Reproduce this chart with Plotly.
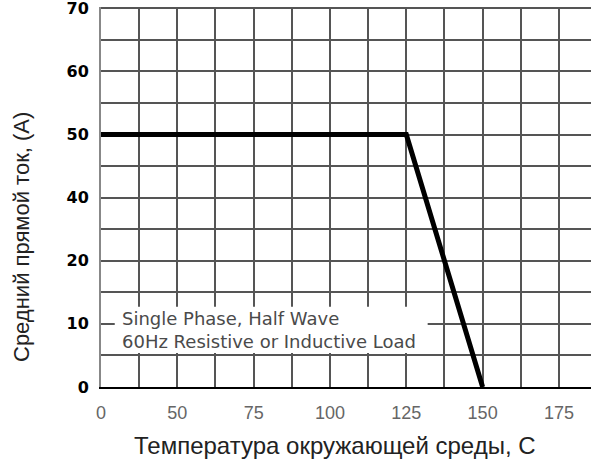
import numpy as np
import plotly.graph_objects as go

# Tick labels as printed on the derating chart (evenly spaced on both axes)
x_ticks = [0, 50, 75, 100, 125, 150, 175]
y_ticks = [0, 10, 20, 40, 50, 60, 70]

# Derating curve: ambient temperature (C) vs average forward current (A)
temperature = [0, 125, 150]
current = [50, 50, 0]

x_idx = np.arange(len(x_ticks))
y_idx = np.arange(len(y_ticks))

# Map values onto the evenly spaced tick grid
x_pos = np.interp(temperature, x_ticks, x_idx)
y_pos = np.interp(current, y_ticks, y_idx)

grid_color = "#555555"

fig = go.Figure()
fig.add_trace(go.Scatter(
    x=x_pos, y=y_pos, mode="lines",
    line=dict(color="black", width=5),
    hoverinfo="skip", showlegend=False,
))

fig.update_xaxes(
    range=[0, 6.42],
    tickmode="array", tickvals=x_idx, ticktext=[str(v) for v in x_ticks],
    tickfont=dict(family="Liberation Sans, Arial", size=18, color="#666666"),
    ticklabelstandoff=8,
    showgrid=True, gridcolor=grid_color, gridwidth=1.6,
    minor=dict(tickvals=x_idx + 0.5, showgrid=True, gridcolor=grid_color, gridwidth=1.6),
    showline=True, linecolor="black", linewidth=2,
    zeroline=False, ticks="",
)
fig.update_yaxes(
    range=[0, 6.02],
    tickmode="array", tickvals=y_idx, ticktext=[str(v) for v in y_ticks],
    tickfont=dict(family="DejaVu Sans", size=16, color="black", weight="bold"),
    ticklabelstandoff=7, ticklabeloverflow="allow",
    showgrid=True, gridcolor=grid_color, gridwidth=1.6,
    minor=dict(tickvals=y_idx[:-1] + 0.5, showgrid=True, gridcolor=grid_color, gridwidth=1.6),
    showline=True, linecolor="#888888", linewidth=2,
    zeroline=False, ticks="",
)

# White label box over the grid
fig.add_shape(
    type="rect", xref="x", yref="y",
    x0=0.18, x1=4.28, y0=0.54, y1=1.27,
    fillcolor="white", line=dict(width=0), layer="above",
)
fig.add_annotation(
    x=0.25, y=0.9, xref="x", yref="y",
    xanchor="left", yanchor="middle", align="left",
    text="Single Phase, Half Wave<br>60Hz Resistive or Inductive Load",
    showarrow=False,
    font=dict(family="DejaVu Sans", size=18, color="#4a4a4a"),
)

# Axis titles
fig.add_annotation(
    x=0.478, y=-0.153, xref="paper", yref="paper",
    xanchor="center", yanchor="middle",
    text="Температура окружающей среды, С", showarrow=False,
    font=dict(family="Liberation Sans, Arial", size=24, color="#222222"),
)
fig.add_annotation(
    x=-0.161, y=0.395, xref="paper", yref="paper",
    xanchor="center", yanchor="middle", textangle=-90,
    text="Средний прямой ток, (А)", showarrow=False,
    font=dict(family="Liberation Sans, Arial", size=22, color="#222222"),
)

fig.update_layout(
    width=591, height=462,
    margin=dict(l=101, r=0, t=7, b=75),
    paper_bgcolor="white", plot_bgcolor="white",
)

fig.write_html("out.html")
